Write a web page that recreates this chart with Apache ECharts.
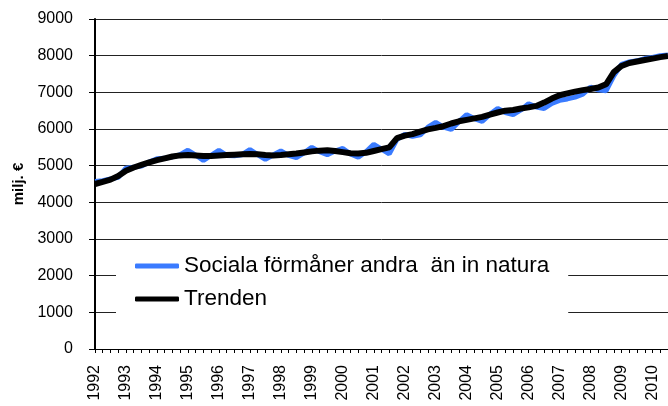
<!DOCTYPE html>
<html>
<head>
<meta charset="utf-8">
<script src="https://cdn.jsdelivr.net/npm/echarts@6/dist/echarts.min.js"></script>
<style>
html,body{margin:0;padding:0;background:#fff;}
#chart{width:668px;height:406px;}
</style>
</head>
<body>
<div id="chart"></div>
<script>
// Year tick labels (first quarter of each year)
const years = ['1992','1993','1994','1995','1996','1997','1998','1999','2000','2001','2002','2003','2004','2005','2006','2007','2008','2009','2010'];
const quarters = ['Q1','Q2','Q3','Q4'];

// Sociala förmåner andra än in natura (quarterly, milj. €)
const sociala = [
  4570,4590,4640,4680,4930,4960,4990,5100,5190,5200,
  5240,5300,5420,5290,5140,5280,5420,5280,5270,5300,
  5440,5300,5170,5290,5400,5280,5220,5350,5500,5380,
  5300,5400,5470,5320,5230,5380,5580,5450,5320,5720,
  5850,5800,5840,6050,6180,6050,5990,6200,6390,6280,
  6210,6400,6560,6450,6390,6520,6690,6600,6560,6700,
  6780,6820,6870,6950,7140,7070,7040,7450,7760,7830,
  7860,7920,7950,8000,8020
];

// Trenden
const trenden = [
  4500,4560,4620,4720,4860,4950,5020,5090,5150,5200,
  5250,5280,5290,5280,5265,5265,5280,5290,5300,5310,
  5320,5310,5290,5280,5290,5310,5330,5360,5390,5410,
  5420,5400,5370,5340,5330,5350,5400,5450,5500,5750,
  5820,5860,5930,5990,6030,6080,6150,6210,6250,6290,
  6330,6390,6450,6500,6520,6560,6590,6630,6720,6830,
  6920,6970,7020,7060,7090,7130,7220,7550,7720,7800,
  7840,7880,7920,7960,7990
];

const seriesNames = ['Sociala förmåner andra  än in natura', 'Trenden'];
const yTicks = {min: 0, max: 9000, interval: 1000};

const categories = [];
for (const y of years) for (const q of quarters) categories.push(y + ' ' + q);
categories.length = sociala.length;

const font = "'Liberation Sans', Arial, sans-serif";
const chart = echarts.init(document.getElementById('chart'), null, {renderer: 'canvas'});
chart.setOption({
  animation: false,
  backgroundColor: '#ffffff',
  textStyle: {fontFamily: font, color: '#000'},
  grid: {left: 95, right: -4, top: 19, bottom: 57, containLabel: false},
  legend: {
    orient: 'vertical',
    left: 116,
    top: 245,
    padding: [8, 19, 8, 19],
    backgroundColor: '#ffffff',
    itemWidth: 44,
    itemHeight: 5,
    itemGap: 7,
    icon: 'roundRect',
    textStyle: {fontFamily: font, fontSize: 22.5, color: '#000', lineHeight: 26},
    data: seriesNames
  },
  xAxis: {
    type: 'category',
    data: categories,
    boundaryGap: false,
    axisLine: {show: true, lineStyle: {color: '#000', width: 1}},
    axisTick: {show: true, interval: 0, length: 4, lineStyle: {color: '#000'}},
    axisLabel: {
      interval: 3,
      rotate: 90,
      margin: 16,
      fontFamily: font,
      fontSize: 16,
      color: '#000',
      formatter: v => v.slice(0, 4)
    },
    splitLine: {show: false}
  },
  yAxis: {
    type: 'value',
    min: yTicks.min,
    max: yTicks.max,
    interval: yTicks.interval,
    name: 'milj. €',
    nameLocation: 'middle',
    nameGap: 68,
    nameTextStyle: {fontFamily: font, fontSize: 15, fontWeight: 'bold', color: '#000', padding: [0, 0, 0, 0]},
    axisLine: {show: true, lineStyle: {color: '#000', width: 2}},
    axisTick: {show: true, length: 6, lineStyle: {color: '#000'}},
    axisLabel: {margin: 22, fontFamily: font, fontSize: 16, color: '#000', formatter: v => String(v)},
    splitLine: {show: true, lineStyle: {color: '#222', width: 1}}
  },
  series: [
    {
      name: seriesNames[0],
      type: 'line',
      data: sociala,
      symbol: 'none',
      itemStyle: {color: '#3a7bff'},
      lineStyle: {color: '#3a7bff', width: 5},
      z: 2
    },
    {
      name: seriesNames[1],
      type: 'line',
      data: trenden,
      symbol: 'none',
      itemStyle: {color: '#000'},
      lineStyle: {color: '#000', width: 6},
      z: 3
    }
  ]
});
</script>
</body>
</html>
